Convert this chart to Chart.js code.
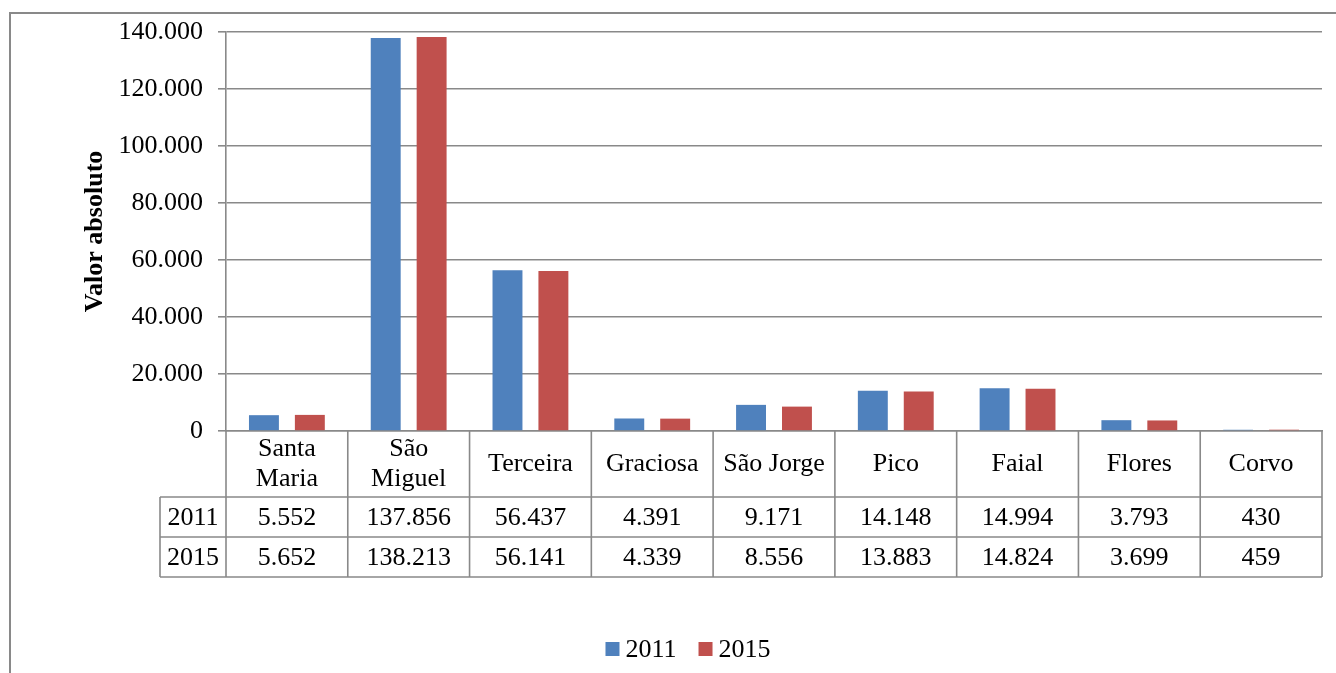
<!DOCTYPE html>
<html>
<head>
<meta charset="utf-8">
<script src="https://cdn.jsdelivr.net/npm/chart.js@4.4.1/dist/chart.umd.min.js"></script>
<style>
  html, body { margin: 0; padding: 0; background: #fff; overflow: hidden; }
  #wrap { width: 1336px; height: 673px; position: relative; }
</style>
</head>
<body>
<div id="wrap"><canvas id="grafico"></canvas></div>
<script>
// dados
var ilhas = [['Santa', 'Maria'], ['São', 'Miguel'], 'Terceira', 'Graciosa', 'São Jorge', 'Pico', 'Faial', 'Flores', 'Corvo'];
var anos = ['2011', '2015'];
var valores2011 = [5552, 137856, 56437, 4391, 9171, 14148, 14994, 3793, 430];
var valores2015 = [5652, 138213, 56141, 4339, 8556, 13883, 14824, 3699, 459];
var coresSeries = ['#4F81BD', '#C0504D'];
var tituloY = 'Valor absoluto';

var fonte = 'Liberation Serif, Times New Roman, serif';
var corLinha = '#898989';
var tamFonte = 26;

function formatar(v) {
    return String(v).replace(/\B(?=(\d{3})+(?!\d))/g, '.');
}

Chart.defaults.font.family = fonte;
Chart.defaults.font.size = tamFonte;
Chart.defaults.color = '#000';

// moldura, tabela de dados e legenda
var tabelaPlugin = {
    id: 'tabelaDados',
    afterDraw: function (chart) {
        var ctx = chart.ctx,
            area = chart.chartArea,
            escalaX = chart.scales.x,
            n = chart.data.labels.length,
            larg = (area.right - area.left) / n,
            topo = area.bottom,
            altCab = 66,
            altLinha = 40,
            esq = 160,
            fundo = topo + altCab + altLinha * chart.data.datasets.length;

        ctx.save();
        // moldura exterior
        ctx.strokeStyle = corLinha;
        ctx.lineWidth = 2;
        ctx.strokeRect(10, 13, 1400, 700);

        ctx.lineWidth = 1.6;
        ctx.beginPath();
        for (var i = 0; i <= n; i++) {
            var xv = area.left + i * larg;
            ctx.moveTo(xv, topo);
            ctx.lineTo(xv, fundo);
        }
        ctx.moveTo(esq, topo + altCab);
        ctx.lineTo(esq, fundo);
        for (var r = 0; r < chart.data.datasets.length; r++) {
            var yl = topo + altCab + altLinha * r;
            ctx.moveTo(esq, yl);
            ctx.lineTo(area.right, yl);
        }
        ctx.moveTo(esq, fundo);
        ctx.lineTo(area.right, fundo);
        ctx.stroke();

        ctx.fillStyle = '#000';
        ctx.font = tamFonte + 'px ' + fonte;
        ctx.textAlign = 'center';
        ctx.textBaseline = 'middle';

        // cabeçalho
        chart.data.labels.forEach(function (lab, i) {
            var cx = escalaX.getPixelForValue(i),
                linhas = Array.isArray(lab) ? lab : [lab],
                cy = topo + altCab / 2 - (linhas.length - 1) * 15;
            linhas.forEach(function (t, k) {
                ctx.fillText(t, cx, cy + k * 30);
            });
        });

        // linhas de valores
        chart.data.datasets.forEach(function (ds, r) {
            var cy = topo + altCab + altLinha * r + altLinha / 2 + 1;
            ctx.fillText(ds.label, (esq + area.left) / 2, cy);
            ds.data.forEach(function (v, i) {
                ctx.fillText(formatar(v), escalaX.getPixelForValue(i), cy);
            });
        });

        // legenda
        var caixa = 14, espaco = 6, entre = 22, centro = 688, yLeg = 650;
        var larguras = chart.data.datasets.map(function (ds) {
            return caixa + espaco + ctx.measureText(ds.label).width;
        });
        var total = larguras.reduce(function (a, b) { return a + b; }, 0) + entre * (larguras.length - 1);
        var xLeg = centro - total / 2;
        ctx.textAlign = 'left';
        chart.data.datasets.forEach(function (ds, r) {
            ctx.fillStyle = ds.backgroundColor;
            ctx.fillRect(xLeg, yLeg - caixa / 2 - 1, caixa, caixa);
            ctx.fillStyle = '#000';
            ctx.fillText(ds.label, xLeg + caixa + espaco, yLeg);
            xLeg += larguras[r] + entre;
        });
        ctx.restore();
    }
};

var ctx = document.getElementById('grafico').getContext('2d');

new Chart(ctx, {
    type: 'bar',
    data: {
        labels: ilhas,
        datasets: [{
            label: anos[0],
            data: valores2011,
            backgroundColor: coresSeries[0],
            categoryPercentage: 0.754,
            barPercentage: 0.652
        }, {
            label: anos[1],
            data: valores2015,
            backgroundColor: coresSeries[1],
            categoryPercentage: 0.754,
            barPercentage: 0.652
        }]
    },
    options: {
        responsive: true,
        maintainAspectRatio: false,
        animation: false,
        layout: {
            padding: { left: 10, right: 14, top: 32, bottom: 0 }
        },
        plugins: {
            legend: { display: false },
            tooltip: { enabled: false }
        },
        scales: {
            x: {
                ticks: { display: false },
                grid: { display: false },
                border: { display: true, color: corLinha, width: 1.6 },
                afterFit: function (scale) { scale.height = 242; }
            },
            y: {
                min: 0,
                max: 140000,
                ticks: {
                    stepSize: 20000,
                    padding: 15,
                    callback: function (v) { return formatar(v); }
                },
                grid: { color: corLinha, lineWidth: 1.6, tickLength: 8 },
                border: { display: true, color: corLinha, width: 1.6 },
                title: {
                    display: true,
                    text: tituloY,
                    font: { size: tamFonte, weight: 'bold' },
                    padding: { top: 70, bottom: 0 }
                },
                afterFit: function (scale) { scale.width = 216; }
            }
        }
    },
    plugins: [tabelaPlugin]
});
</script>
</body>
</html>
